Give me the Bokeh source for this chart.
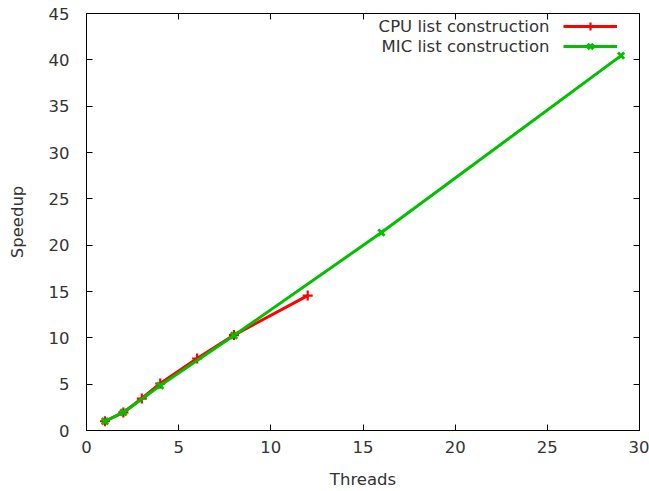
from bokeh.plotting import figure
from bokeh.models import Range1d, LinearAxis, Legend, LegendItem, Label
from bokeh.embed import file_html
from bokeh.resources import INLINE

cpu_threads = [1, 2, 3, 4, 6, 8, 12]
cpu_speedup = [1.0, 1.95, 3.45, 5.07, 7.77, 10.3, 14.56]
mic_threads = [1, 2, 4, 8, 16, 29]
mic_speedup = [1.0, 1.95, 4.85, 10.25, 21.36, 40.45]
x_ticks = [0, 5, 10, 15, 20, 25, 30]
y_ticks = [0, 5, 10, 15, 20, 25, 30, 35, 40, 45]
series_names = ["CPU list construction", "MIC list construction"]

FONT = "DejaVu Sans"
TXT = "#333333"
FS = "16.5px"

p = figure(width=649, height=491, output_backend="svg", toolbar_location=None,
           x_range=Range1d(0, 30), y_range=Range1d(0, 45),
           min_border_left=86, min_border_right=10, min_border_top=13, min_border_bottom=61)
p.xgrid.visible = False
p.ygrid.visible = False
p.outline_line_color = "black"
p.outline_line_width = 1
p.background_fill_color = "white"
p.border_fill_color = "white"

for ax in p.xaxis:
    ax.ticker = x_ticks
for ax in p.yaxis:
    ax.ticker = y_ticks

def style(ax, labels=True):
    ax.major_tick_in = 6
    ax.major_tick_out = 0
    ax.minor_tick_in = 0
    ax.minor_tick_out = 0
    ax.axis_line_color = "black"
    ax.major_tick_line_color = "black"
    ax.major_label_text_font = FONT
    ax.major_label_text_font_size = FS
    ax.major_label_text_color = TXT
    ax.axis_label_text_font = FONT
    ax.axis_label_text_font_size = FS
    ax.axis_label_text_font_style = "normal"
    ax.axis_label_text_color = TXT
    if not labels:
        ax.major_label_overrides = {t: "" for t in ax.ticker.ticks}
        ax.major_label_standoff = 0
        ax.axis_line_color = None

xa = p.xaxis[0]
style(xa)
xa.axis_label = "Threads"
xa.major_label_standoff = 10
xa.axis_label_standoff = 14
ya = p.yaxis[0]
style(ya)
ya.axis_label = "Speedup"
ya.major_label_standoff = 17
ya.axis_label_standoff = 19

top = LinearAxis(ticker=x_ticks)
style(top, labels=False)
p.add_layout(top, "above")
right = LinearAxis(ticker=y_ticks)
style(right, labels=False)
p.add_layout(right, "right")

red = "#ff0000"
green = "#00c000"

cl = p.line(cpu_threads, cpu_speedup, line_color=red, line_width=3)
cm = p.scatter(cpu_threads, cpu_speedup, marker="cross", size=10, line_color=red, line_width=2.2)
ml = p.line(mic_threads, mic_speedup, line_color=green, line_width=3)
mm = p.scatter(mic_threads, mic_speedup, marker="x", size=9, line_color=green, line_width=2.8)

# gnuplot-style key: text on the left, sample on the right
legend = Legend(items=[LegendItem(label="", renderers=[cl, cm]),
                       LegendItem(label="", renderers=[ml, mm])],
                location=(477, 374))
legend.border_line_color = None
legend.background_fill_alpha = 0
legend.glyph_width = 54
legend.glyph_height = 20
legend.label_height = 20
legend.label_width = 0
legend.label_standoff = 0
legend.spacing = 0
legend.padding = 0
legend.margin = 0
p.add_layout(legend, "center")

for i, name in enumerate(series_names):
    p.add_layout(Label(x=463, y=417 - 13 - 20 * i, x_units="screen", y_units="screen",
                       text=name, text_align="right", text_baseline="middle",
                       text_font=FONT, text_font_size=FS, text_color=TXT))

open("out.html", "w").write(file_html(p, INLINE))
